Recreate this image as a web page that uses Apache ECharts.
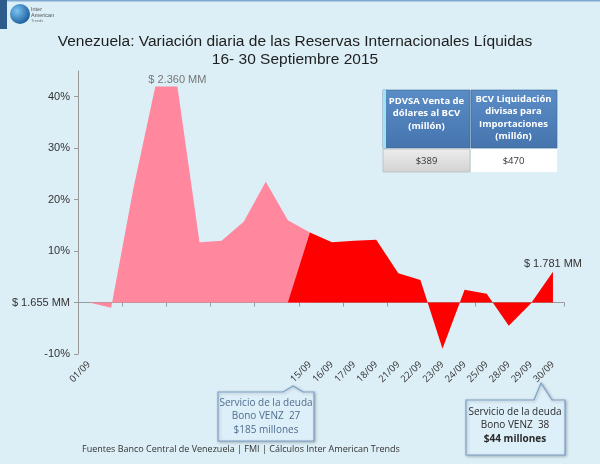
<!DOCTYPE html>
<html>
<head>
<meta charset="utf-8">
<script src="https://cdn.jsdelivr.net/npm/echarts@6/dist/echarts.min.js"></script>
<style>
html,body{margin:0;padding:0;background:#DCEEF6;}
#c{width:600px;height:464px;}
</style>
</head>
<body>
<div id="c"></div>
<script>
// ---- data ----
var categories = ['01/09','02/09','03/09','04/09','07/09','08/09','09/09','10/09','11/09','14/09','15/09',
                  '16/09','17/09','18/09','21/09','22/09','23/09','24/09','25/09','28/09','29/09','30/09'];
var tickLabels = ['01/09','','','','','','','','','','15/09',
                  '16/09','17/09','18/09','21/09','22/09','23/09','24/09','25/09','28/09','29/09','30/09'];
// daily variation (%) vs $ 1.655 MM base
var earlyValues = [0, -1, 22, 42, 42, 11.7, 12, 15.7, 23.5, 16, 13.6, null, null, null, null, null, null, null, null, null, null, null];
var lateValues  = [null, null, null, null, null, null, null, null, null, 0, 13.6, 11.7, 12, 12.2, 5.7, 4.4, -9, 2.5, 1.7, -4.5, -0.2, 6];
var yTicks = [-10, 0, 10, 20, 30, 40];
var baseLabel = '$ 1.655 MM';
var peakLabel = {index: 4, text: '$ 2.360 MM'};
var endLabel = {index: 21, text: '$ 1.781 MM'};
var tableHeaders = [['PDVSA Venta de','dólares al BCV','(millón)'], ['BCV Liquidación','divisas para','Importaciones','(millón)']];
var tableValues = ['$389', '$470'];
var note1 = ['Servicio de la deuda', 'Bono VENZ  27', '$185 millones'];
var note2 = ['Servicio de la deuda', 'Bono VENZ  38', '$44 millones'];
var titleLines = ['Venezuela: Variación diaria de las Reservas Internacionales Líquidas', '16- 30 Septiembre 2015'];
var footer = 'Fuentes Banco Central de Venezuela | FMI | Cálculos Inter American Trends';

function toSeries(arr) {
  return arr.map(function (v) { return v === null ? '-' : v; });
}
function markFor(arr, lbl, lblStyle) {
  return {
    symbol: 'circle', symbolSize: 1, itemStyle: {color: 'rgba(0,0,0,0)'},
    silent: true, animation: false,
    label: Object.assign({show: true, position: 'top', formatter: lbl.text}, lblStyle),
    data: [{coord: [lbl.index, arr[lbl.index]]}]
  };
}

var chart = echarts.init(document.getElementById('c'), null, {renderer: 'canvas'});

var font = 'Liberation Sans, Arial, sans-serif';
var cal = 'Open Sans, Liberation Sans, sans-serif';

function tableGraphics() {
  var g = [];
  var x0 = 383, xm = 470, x1 = 557, y0 = 90, ym = 148, y1 = 172;
  var blue = new echarts.graphic.LinearGradient(0, 0, 0, 1, [{offset: 0, color: '#5A8CC6'}, {offset: 1, color: '#4675AE'}]);
  g.push({type: 'rect', shape: {x: x0, y: y0, width: xm - x0, height: ym - y0},
    style: {fill: blue, stroke: '#3A6497', lineWidth: 0.6}});
  g.push({type: 'rect', shape: {x: x0, y: y0, width: 3, height: ym - y0}, style: {fill: '#9FE3F2'}});
  g.push({type: 'rect', shape: {x: xm + 1, y: y0, width: x1 - xm - 1, height: ym - y0},
    style: {fill: blue, stroke: '#3A6497', lineWidth: 0.6}});
  g.push({type: 'rect', shape: {x: x0, y: ym + 1, width: xm - x0, height: y1 - ym - 1},
    style: {fill: new echarts.graphic.LinearGradient(0, 0, 0, 1, [{offset: 0, color: '#EDEDED'}, {offset: 1, color: '#D2D2D2'}]), stroke: '#BDBDBD', lineWidth: 0.8}});
  g.push({type: 'rect', shape: {x: xm + 1, y: ym + 1, width: x1 - xm - 1, height: y1 - ym - 1},
    style: {fill: '#FFFFFF'}});
  var cx = [(x0 + xm) / 2, (xm + x1) / 2];
  var tops = [95, 93];
  tableHeaders.forEach(function (lines, k) {
    lines.forEach(function (t, j) {
      g.push({type: 'text', x: cx[k], y: tops[k] + j * 12.5 + 6,
        style: {text: t, fill: '#FFFFFF', font: 'bold 9.5px ' + cal, textAlign: 'center', textVerticalAlign: 'middle'}});
    });
  });
  tableValues.forEach(function (t, k) {
    g.push({type: 'text', x: cx[k], y: (ym + y1) / 2 + 1,
      style: {text: t, fill: '#333333', font: '9.5px ' + cal, textAlign: 'center', textVerticalAlign: 'middle'}});
  });
  return g;
}

function callout(pts, lines, cx, y, color, boldLast) {
  var g = [];
  g.push({type: 'polygon', shape: {points: pts},
    style: {fill: '#DDEFF8', stroke: '#7FA1C9', lineWidth: 1.2, shadowBlur: 3, shadowColor: 'rgba(0,0,0,0.25)', shadowOffsetX: 1, shadowOffsetY: 1}});
  lines.forEach(function (t, j) {
    g.push({type: 'text', x: cx, y: y + j * 13.5,
      style: {text: t, fill: color, font: ((boldLast && j === lines.length - 1) ? 'bold ' : '') + '10px ' + cal, textAlign: 'center', textVerticalAlign: 'middle'}});
  });
  return g;
}

var graphics = [
  {type: 'rect', shape: {x: 0, y: 0, width: 600, height: 1.5}, style: {fill: '#7FA7CF'}},
  {type: 'rect', shape: {x: 0, y: 0, width: 7, height: 29}, style: {fill: '#2D5C8C'}},
  {type: 'circle', shape: {cx: 20, cy: 14, r: 10},
    style: {fill: new echarts.graphic.RadialGradient(0.35, 0.35, 0.8, [{offset: 0, color: '#7CC4F2'}, {offset: 1, color: '#0B4E8E'}])}},
  {type: 'text', x: 31, y: 6, style: {text: 'Inter', fill: '#555', font: '5.5px ' + font}},
  {type: 'text', x: 31, y: 12, style: {text: 'American', fill: '#555', font: '5.5px ' + font}},
  {type: 'text', x: 31, y: 19, style: {text: 'Trends', fill: '#777', font: '4px ' + font}},
  {type: 'text', x: 295, y: 42, style: {text: titleLines[0], fill: '#1E1E1E', font: '15.5px ' + font, textAlign: 'center', textVerticalAlign: 'middle'}},
  {type: 'text', x: 295, y: 60, style: {text: titleLines[1], fill: '#1E1E1E', font: '15.5px ' + font, textAlign: 'center', textVerticalAlign: 'middle'}},
  {type: 'text', x: 82, y: 449, style: {text: footer, fill: '#333', font: '9px ' + cal, textVerticalAlign: 'middle'}}
].concat(tableGraphics())
 .concat(callout([[218,392],[283,392],[293,386],[303,392],[314,392],[314,441],[218,441]], note1, 266, 403, '#4F6D8E', false))
 .concat(callout([[466,400],[534,400],[541,383],[552,400],[565,400],[565,455],[466,455]], note2, 515, 412, '#2A2A2A', true));

var option = {
  backgroundColor: '#DCEEF6',
  animation: false,
  grid: {left: 78, right: 36, top: 71, bottom: 110, containLabel: false},
  xAxis: [
    {type: 'category', data: categories, boundaryGap: true, position: 'bottom',
     axisLine: {onZero: true, lineStyle: {color: '#9A9A9A', width: 1}},
     axisTick: {show: true, length: 4, lineStyle: {color: '#9A9A9A'}},
     axisLabel: {show: false}, splitLine: {show: false}},
    {type: 'category', data: categories, boundaryGap: true, position: 'bottom',
     axisLine: {show: false, onZero: false}, axisTick: {show: false}, splitLine: {show: false},
     axisLabel: {show: true, interval: 0, rotate: 45, margin: 9, color: '#333', fontSize: 9.5, fontFamily: cal,
       formatter: function (v, i) { return tickLabels[i]; }}}
  ],
  yAxis: {
    type: 'value', min: yTicks[0], max: 45, interval: 10,
    axisLine: {show: true, lineStyle: {color: '#9A9A9A'}},
    axisTick: {show: true, length: 4, lineStyle: {color: '#9A9A9A'}},
    splitLine: {show: false},
    axisLabel: {showMaxLabel: false, color: '#333', fontSize: 11, fontFamily: font, margin: 8,
      formatter: function (v) { return v === 0 ? baseLabel : (yTicks.indexOf(v) >= 0 ? v + '%' : ''); }}
  },
  series: [
    {type: 'line', xAxisIndex: 0, data: toSeries(earlyValues),
     symbol: 'none', lineStyle: {width: 0}, areaStyle: {color: '#FF889F', opacity: 1}, connectNulls: false,
     markPoint: markFor(earlyValues, peakLabel, {color: '#777', fontSize: 11, fontFamily: font, distance: 0})},
    {type: 'line', xAxisIndex: 0, data: toSeries(lateValues),
     symbol: 'none', lineStyle: {width: 0}, areaStyle: {color: '#FF0000', opacity: 1}, connectNulls: false,
     markPoint: markFor(lateValues, endLabel, {color: '#333', fontSize: 11, fontFamily: font, distance: 2})}
  ],
  graphic: graphics
};
chart.setOption(option);
</script>
</body>
</html>
